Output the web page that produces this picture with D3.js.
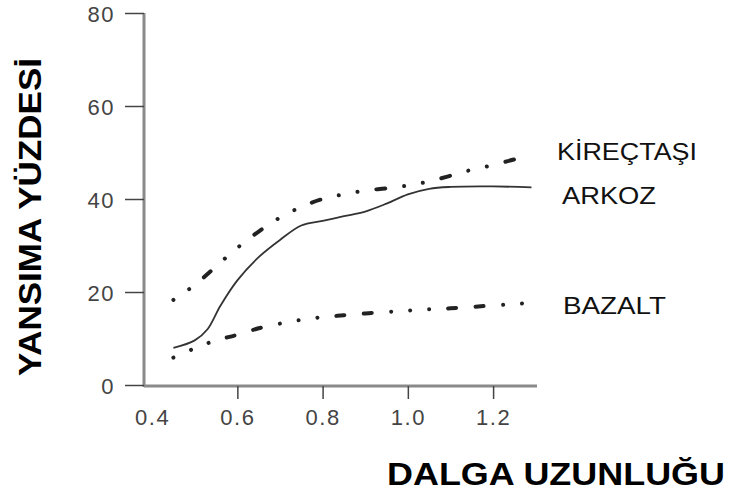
<!DOCTYPE html>
<html>
<head>
<meta charset="utf-8">
<script src="https://cdn.jsdelivr.net/npm/d3@7"></script>
<style>
  body { margin: 0; background: #fff; }
  text { font-family: "Liberation Sans", Arial, sans-serif; }
</style>
</head>
<body>
<svg width="730" height="491"></svg>
<script>
// wavelength (micrometre) vs reflectance percentage
let kirectasiX = [0.45, 0.5, 0.55, 0.6, 0.65, 0.7, 0.75, 0.8, 0.85, 0.9, 0.95, 1.0, 1.05, 1.1, 1.15, 1.2, 1.25, 1.29];
let kirectasiY = [18.3, 21.5, 25.5, 29.5, 33, 36, 38.3, 40, 41, 41.8, 42.3, 42.9, 43.8, 45, 46.3, 47.3, 48.5, 49.1];

let arkozX = [0.45, 0.5, 0.53, 0.56, 0.6, 0.65, 0.7, 0.75, 0.8, 0.85, 0.9, 0.95, 1.0, 1.05, 1.1, 1.2, 1.29];
let arkozY = [8, 9.6, 12, 17, 22.5, 27.5, 31.2, 34.3, 35.3, 36.3, 37.3, 39, 41, 42.2, 42.6, 42.7, 42.5];

let bazaltX = [0.45, 0.5, 0.55, 0.6, 0.65, 0.7, 0.75, 0.8, 0.85, 0.9, 0.95, 1.0, 1.05, 1.1, 1.15, 1.2, 1.25, 1.29];
let bazaltY = [5.9, 7.9, 9.6, 10.8, 12.2, 13.2, 14, 14.6, 15, 15.4, 15.7, 16, 16.3, 16.5, 16.8, 17.1, 17.4, 17.7];

let seriesNames = ["KİREÇTAŞI", "ARKOZ", "BAZALT"];
let xTicks = [0.4, 0.6, 0.8, 1.0, 1.2];
let yTicks = [0, 20, 40, 60, 80];

let svg = d3.select("svg");

let x = d3.scaleLinear().domain([0.381, 1.303]).range([144, 537]);
let y = d3.scaleLinear().domain([0, 80]).range([385, 13]);

// y axis
let yAxis = svg.append("g")
  .attr("transform", "translate(144,0)")
  .call(d3.axisLeft(y).tickValues(yTicks).tickSize(19).tickPadding(10).tickSizeOuter(0));
yAxis.select(".domain").attr("stroke", "#8a8a8a").attr("stroke-width", 3).attr("d", "M0," + y(80) + "V" + (y(0) + 2));
yAxis.selectAll(".tick line").attr("stroke", "#444").attr("stroke-width", 1.5);
yAxis.selectAll(".tick text")
  .attr("fill", "#444")
  .attr("font-size", 22)
  .attr("letter-spacing", 1.5)
  .attr("dy", "0.4em");

// x axis
let xAxis = svg.append("g")
  .attr("transform", "translate(0,386)")
  .call(d3.axisBottom(x).tickValues(xTicks).tickSize(13).tickPadding(10).tickSizeOuter(0)
    .tickFormat(d3.format(".1f")));
xAxis.select(".domain").attr("stroke", "#8a8a8a").attr("stroke-width", 3).attr("d", "M" + x(0.381) + ",0H" + x(1.303));
xAxis.selectAll(".tick line").attr("stroke", "#444").attr("stroke-width", 1.5)
  .attr("display", d => d < 0.5 ? "none" : null);
xAxis.selectAll(".tick text")
  .attr("fill", "#444")
  .attr("font-size", 22)
  .attr("letter-spacing", 1.5);

let line = d3.line()
  .x(d => x(d[0]))
  .y(d => y(d[1]))
  .curve(d3.curveCatmullRom.alpha(0.5));

svg.append("path")
  .datum(d3.zip(kirectasiX, kirectasiY))
  .attr("d", line)
  .attr("fill", "none")
  .attr("stroke", "#222")
  .attr("stroke-width", 4)
  .attr("stroke-linecap", "round")
  .attr("stroke-dasharray", "0.01 19 0.01 19 9 19");

svg.append("path")
  .datum(d3.zip(arkozX, arkozY))
  .attr("d", line)
  .attr("fill", "none")
  .attr("stroke", "#333")
  .attr("stroke-width", 1.8);

svg.append("path")
  .datum(d3.zip(bazaltX, bazaltY))
  .attr("d", line)
  .attr("fill", "none")
  .attr("stroke", "#222")
  .attr("stroke-width", 4)
  .attr("stroke-linecap", "round")
  .attr("stroke-dasharray", "0.01 19 0.01 19 0.01 19 8 19.5 8 19.5");

// series labels
let labelPos = [[557, 160, 140], [562, 204, 94], [563, 314, 103]];
seriesNames.forEach(function(name, i) {
  svg.append("text")
    .attr("x", labelPos[i][0])
    .attr("y", labelPos[i][1])
    .attr("font-size", 23)
    .attr("fill", "#111")
    .attr("textLength", labelPos[i][2])
    .attr("lengthAdjust", "spacingAndGlyphs")
    .text(name);
});

// axis titles
svg.append("text")
  .attr("transform", "translate(41,217) rotate(-90)")
  .attr("text-anchor", "middle")
  .attr("font-size", 31)
  .attr("font-weight", "bold")
  .attr("fill", "#000")
  .attr("textLength", 318)
  .attr("lengthAdjust", "spacingAndGlyphs")
  .text("YANSIMA YÜZDESİ");

svg.append("text")
  .attr("x", 387)
  .attr("y", 485)
  .attr("font-size", 32)
  .attr("font-weight", "bold")
  .attr("fill", "#000")
  .attr("textLength", 338)
  .attr("lengthAdjust", "spacingAndGlyphs")
  .text("DALGA UZUNLUĞU");
</script>
</body>
</html>
